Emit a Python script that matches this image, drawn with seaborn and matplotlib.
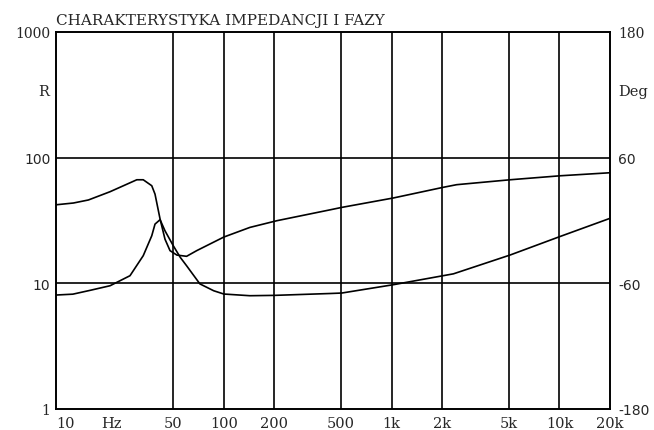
import numpy as np
import pandas as pd
import matplotlib
matplotlib.use("Agg")
import matplotlib.pyplot as plt
import seaborn as sns

# impedance curve (ohm)
imp_freq = [10, 12.6, 16, 21, 27.6, 33.1, 37.2, 38.9, 41.7, 44.6, 50, 55, 60, 72, 87,
            100, 143, 200, 430, 504, 1023, 2333, 5080, 10090, 20000]
imp_ohm = [8.07, 8.2, 8.8, 9.57, 11.5, 16.6, 23.9, 29.6, 32.1, 26.2, 19.9, 16.1, 13.8, 9.9, 8.73,
           8.22, 7.97, 8.02, 8.3, 8.37, 9.75, 11.9, 16.8, 23.6, 32.9]

# phase curve (deg)
ph_freq = [10, 12.7, 15.6, 21, 30.3, 33.1, 37.2, 38.9, 41.7, 44.6, 47.8, 52.5, 60, 68.9,
           100, 143, 207, 430, 504, 1023, 2030, 2440, 5080, 10090, 20000]
ph_deg = [15.0, 16.7, 19.6, 27.5, 38.9, 38.9, 33.2, 25.2, 1.4, -17.8, -28.8, -33.0, -34.2, -28.8,
          -15.8, -6.6, -0.2, 10.2, 12.5, 21.5, 31.7, 34.2, 38.9, 42.7, 45.6]

x_ticks = [10, 21.5, 50, 100, 200, 500, 1000, 2000, 5000, 10000, 20000]
x_labels = ["10", "Hz", "50", "100", "200", "500", "1k", "2k", "5k", "10k", "20k"]
grid_freqs = [50, 100, 200, 500, 1000, 2000, 5000, 10000]
r_ticks = [1, 10, 100, 1000]
r_labels = ["1", "10", "100", "1000"]
deg_ticks = [-180, -60, 60, 180]
deg_labels = ["-180", "-60", "60", "180"]

title = "CHARAKTERYSTYKA IMPEDANCJI I FAZY"

sns.set_style("white")
plt.rcParams["font.family"] = ["DejaVu Sans"]

imp = pd.DataFrame({"f": imp_freq, "z": imp_ohm})
ph = pd.DataFrame({"f": ph_freq, "p": ph_deg})

fig = plt.figure(figsize=(6.54, 4.31), dpi=100)
ax = fig.add_axes([56 / 654, 21 / 431, 554 / 654, 377 / 431])
ax2 = ax.twinx()

sns.lineplot(data=imp, x="f", y="z", ax=ax, color="black", lw=1.2, sort=False)
sns.lineplot(data=ph, x="f", y="p", ax=ax2, color="black", lw=1.2, sort=False)

ax.set_xscale("log")
ax.set_yscale("log")
ax.set_xlim(10, 20000)
ax.set_ylim(1, 1000)
ax2.set_ylim(-180, 180)

for f in grid_freqs:
    ax.axvline(f, color="black", lw=1.2, zorder=0)
for r in [10, 100]:
    ax.axhline(r, color="black", lw=1.2, zorder=0)

ax.set_xticks(x_ticks)
ax.set_xticklabels(x_labels)
ax.xaxis.set_minor_locator(matplotlib.ticker.NullLocator())
ax.set_yticks(r_ticks)
ax.set_yticklabels(r_labels)
ax.yaxis.set_minor_locator(matplotlib.ticker.NullLocator())
ax2.set_yticks(deg_ticks)
ax2.set_yticklabels(deg_labels)

ax.tick_params(axis="x", length=0, pad=5, labelsize=10.5)
ax.tick_params(axis="y", length=0, pad=4, labelsize=10)
ax2.tick_params(axis="y", length=0, pad=6, labelsize=10)
for lbl in ax.get_xticklabels():
    lbl.set_fontfamily("DejaVu Serif")
ax.get_xticklabels()[0].set_horizontalalignment("left")
for lbl in ax.get_yticklabels() + ax2.get_yticklabels():
    if lbl.get_text() in ("1", "1000", "180"):
        lbl.set_fontfamily("DejaVu Serif")

ax.set_xlabel("")
ax.set_ylabel("")
ax2.set_ylabel("")
for a in (ax, ax2):
    for s in a.spines.values():
        s.set_color("black")
        s.set_linewidth(1.2)

ax.text(-0.012, 0.843, "R", transform=ax.transAxes, ha="right", va="center",
        fontsize=10.5, family="DejaVu Serif")
ax.text(1.015, 0.843, "Deg", transform=ax.transAxes, ha="left", va="center",
        fontsize=10.5, family="DejaVu Serif")
ax.text(0, 1.012, title, transform=ax.transAxes, ha="left", va="bottom",
        fontsize=11, family="DejaVu Serif")

fig.savefig("out.png", dpi=100)
